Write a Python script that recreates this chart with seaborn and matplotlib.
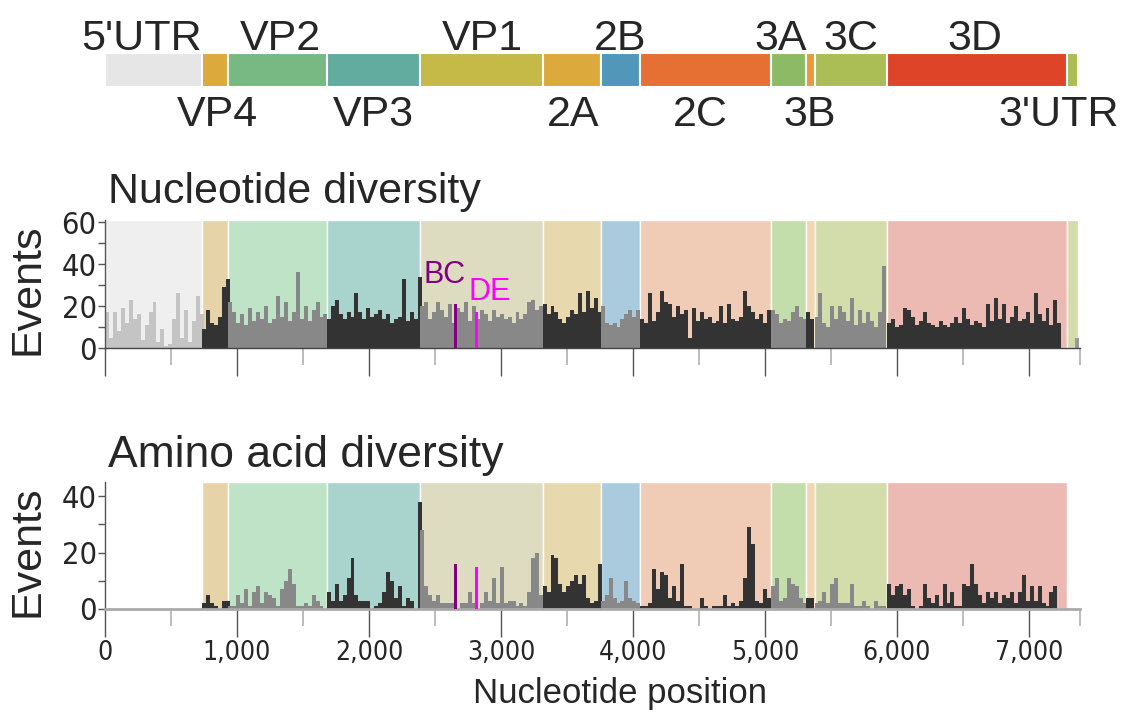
import numpy as np
import pandas as pd
import matplotlib.pyplot as plt
import seaborn as sns

# genome map
genes = ["5'UTR", 'VP4', 'VP2', 'VP3', 'VP1', '2A', '2B', '2C', '3A', '3B', '3C', '3D', "3'UTR"]
gene_start = [0, 735, 935, 1680, 2390, 3315, 3755, 4055, 5045, 5310, 5375, 5925, 7290]
gene_end = [735, 935, 1680, 2390, 3315, 3755, 4055, 5045, 5310, 5375, 5925, 7290, 7370]
genome_colors = ['#e6e6e6', '#dcaa3c', '#78b882', '#62ab9f', '#c5b948', '#dcaa3c', '#5097b9',
                 '#e66f33', '#8dba65', '#e89a3a', '#abbd55', '#dd4428', '#abbd55']
shade_colors = ['#efefef', '#e6d3a8', '#bfe3c7', '#a9d3cd', '#dddcc0', '#e8d8ae', '#a9cbdd',
                '#f0cbb6', '#c3deab', '#f3d6b3', '#d3dcab', '#ecb9b3', '#d3dcab']
bar_tone = ['#c4c4c4', '#333333', '#888888', '#333333', '#888888', '#333333', '#888888',
            '#333333', '#888888', '#333333', '#888888', '#333333', '#999999']

# nucleotide diversity, 30 nt windows from each gene start
nt_5utr = [17, 5, 17, 8, 19, 12, 23, 14, 16, 4, 11, 17, 22, 3, 9, 1, 2, 14, 26, 5, 18, 3, 13, 25, 16]
nt_vp4 = [9, 18, 12, 11, 15, 29, 33]
nt_vp2 = [22, 17, 12, 16, 11, 19, 13, 17, 14, 20, 12, 14, 25, 15, 22, 13, 17, 36, 14, 20, 13, 18, 22, 15, 16]
nt_vp3 = [14, 20, 23, 16, 14, 17, 15, 26, 17, 14, 19, 15, 16, 18, 14, 16, 12, 14, 15, 33, 13, 17, 14, 34]
nt_vp1 = [20, 22, 14, 17, 22, 18, 15, 21, 12, 19, 17, 22, 13, 20, 14, 18, 16, 13, 18, 15, 16, 14, 15, 12,
          17, 14, 16, 22, 23, 18, 20]
nt_2a = [21, 16, 20, 17, 14, 12, 15, 18, 16, 26, 17, 27, 19, 24, 17]
nt_2b = [20, 12, 11, 12, 10, 14, 16, 18, 15, 18]
nt_2c = [14, 12, 26, 13, 17, 27, 22, 21, 15, 20, 16, 18, 5, 19, 13, 17, 14, 15, 12, 13, 20, 12, 21, 14,
         13, 15, 27, 20, 17, 14, 16, 12, 18]
nt_3a = [18, 16, 12, 14, 13, 17, 20, 15, 14]
nt_3b = [17, 14]
nt_3c = [15, 26, 12, 10, 20, 14, 20, 17, 13, 24, 11, 18, 12, 17, 13, 10, 17, 39]
nt_3d = [12, 14, 10, 11, 19, 18, 15, 11, 13, 17, 12, 11, 10, 13, 11, 10, 12, 15, 12, 19, 14, 11, 13, 12,
         10, 21, 13, 24, 14, 21, 12, 15, 20, 13, 14, 17, 12, 26, 16, 13, 19, 11, 23, 12]
nt_3utr = [0, 0, 5]

# amino acid diversity
aa_vp4 = [2, 5, 2, 1, 0, 3, 3]
aa_vp2 = [1, 1, 5, 2, 7, 1, 6, 8, 2, 6, 5, 4, 1, 7, 10, 14, 9, 1, 1, 2, 1, 5, 3, 1, 0]
aa_vp3 = [6, 3, 9, 3, 5, 11, 18, 5, 3, 3, 3, 0, 1, 2, 6, 13, 10, 4, 8, 1, 4, 3, 0, 38]
aa_vp1 = [28, 8, 5, 3, 5, 2, 2, 2, 2, 0, 2, 2, 6, 2, 0, 2, 6, 3, 11, 2, 15, 2, 3, 3, 1, 2, 1, 6, 18, 20, 5]
aa_2a = [8, 6, 19, 18, 9, 6, 8, 10, 12, 9, 12, 4, 2, 3, 16]
aa_2b = [3, 5, 11, 4, 2, 3, 10, 4, 3, 2]
aa_2c = [1, 1, 2, 14, 7, 13, 12, 4, 8, 3, 16, 1, 1, 0, 0, 4, 1, 0, 1, 1, 1, 5, 1, 2, 1, 3, 11, 29, 23,
         3, 2, 7, 4]
aa_3a = [8, 11, 3, 4, 11, 9, 8, 4, 2]
aa_3b = [4, 4]
aa_3c = [2, 3, 6, 2, 9, 11, 2, 2, 2, 9, 1, 1, 3, 1, 0, 3, 1, 1]
aa_3d = [9, 5, 8, 9, 5, 7, 1, 0, 1, 9, 4, 2, 5, 1, 9, 2, 6, 1, 1, 9, 8, 16, 9, 5, 2, 6, 4, 6, 2, 5, 4, 6,
         2, 6, 12, 3, 8, 3, 8, 2, 1, 6, 8, 0]

# highlighted sites
bc_pos, bc_nt, bc_aa = [2657], [21], [16]
de_pos, de_nt, de_aa = [2812], [17], [15]

nt_sets = [nt_5utr, nt_vp4, nt_vp2, nt_vp3, nt_vp1, nt_2a, nt_2b, nt_2c, nt_3a, nt_3b, nt_3c, nt_3d, nt_3utr]
aa_sets = [None, aa_vp4, aa_vp2, aa_vp3, aa_vp1, aa_2a, aa_2b, aa_2c, aa_3a, aa_3b, aa_3c, aa_3d, None]
x_ticks = [0, 1000, 2000, 3000, 4000, 5000, 6000, 7000]
x_tick_labels = ['0', '1,000', '2,000', '3,000', '4,000', '5,000', '6,000', '7,000']
step = 30
XMAX = 7390

sns.set_style('ticks')
plt.rcParams['font.family'] = ['Liberation Sans', 'DejaVu Sans']
narrow = ['DejaVu Sans']

W, H = 1132, 713
fig = plt.figure(figsize=(W / 100, H / 100), dpi=100)


def box(l, t, r, b):
    return [l / W, 1 - b / H, (r - l) / W, (b - t) / H]


def ftext(x, y, s, **kw):
    fig.text(x / W, 1 - y / H, s, **kw)


x_right = 105 + XMAX * 0.132

# top genome bar
ax0 = fig.add_axes(box(105, 53, x_right, 87))
ax0.barh(0, np.array(gene_end) - np.array(gene_start), left=gene_start, height=1,
         color=genome_colors, edgecolor='white', linewidth=1.5)
ax0.set_xlim(0, XMAX)
ax0.set_ylim(-0.5, 0.5)
ax0.axis('off')

top_labels = [("5'UTR", 142), ('VP2', 280), ('VP1', 482), ('2B', 620), ('3A', 781), ('3C', 851), ('3D', 975)]
bot_labels = [('VP4', 217), ('VP3', 373), ('2A', 573), ('2C', 700), ('3B', 810), ("3'UTR", 1059)]
for s, x in top_labels:
    ftext(x, 50, s, ha='center', va='baseline', fontsize=31)
for s, x in bot_labels:
    ftext(x, 126, s, ha='center', va='baseline', fontsize=31)


def bars(ax, pos, vals, edges, color, z):
    df = pd.DataFrame({'pos': pos, 'val': vals})
    sns.histplot(data=df, x='pos', weights='val', bins=list(edges), color=color, alpha=1,
                 linewidth=0, ax=ax, zorder=z)


def draw_panel(ax, sets, ymax, bc_y, de_y):
    for i, g in enumerate(genes):
        if sets[i] is None:
            continue
        ax.axvspan(gene_start[i], gene_end[i], color=shade_colors[i], ec='white', lw=1, zorder=0)
    for i, g in enumerate(genes):
        vals = sets[i]
        if vals is None:
            continue
        pos = gene_start[i] + step * np.arange(len(vals))
        edges = np.append(pos, pos[-1] + step)
        bars(ax, pos, vals, edges, bar_tone[i], 2)
    for p, v, c in [(bc_pos, bc_y, '#800080'), (de_pos, de_y, '#ff00ff')]:
        bars(ax, p, v, [p[0] - 10, p[0] + 12], c, 3)
    ax.set_xlim(0, XMAX)
    ax.set_ylim(0, ymax)
    ax.set_xlabel('')
    ax.set_ylabel('')
    ax.set_xticks(x_ticks)
    ax.set_xticks([500, 1500, 2500, 3500, 4500, 5500, 6500, XMAX], minor=True)
    ax.tick_params(axis='x', which='major', length=20, width=1, color='#555555')
    ax.tick_params(axis='x', which='minor', length=12, width=1.2, color='#b0b0b0')
    ax.tick_params(axis='y', which='both', length=5, width=1, color='#555555', pad=1)
    sns.despine(ax=ax)
    ax.spines['left'].set_color('#555555')
    ax.spines['left'].set_linewidth(1)


ax1 = fig.add_axes(box(105, 220, x_right, 348))
draw_panel(ax1, nt_sets, 61, bc_nt, de_nt)
ax1.set_yticks([0, 20, 40, 60])
ax1.set_yticks([10, 30, 50], minor=True)
ax1.tick_params(labelbottom=False)
ax1.spines['bottom'].set_color('#444444')
ax1.spines['bottom'].set_linewidth(1)

ax2 = fig.add_axes(box(105, 482, x_right, 609))
draw_panel(ax2, aa_sets, 45, bc_aa, de_aa)
ax2.set_yticks([0, 20, 40])
ax2.set_yticks([10, 30], minor=True)
ax2.set_xticklabels(x_tick_labels, family=narrow, fontstretch='condensed', fontsize=19)
ax2.tick_params(axis='x', which='major', pad=2)
ax2.spines['bottom'].set_color('#aaaaaa')
ax2.spines['bottom'].set_linewidth(2)
for ax in (ax1, ax2):
    for lab in ax.get_yticklabels():
        lab.set_family(narrow)
        lab.set_fontstretch('condensed')
        lab.set_fontsize(22)

# titles and labels
ftext(108, 203, 'Nucleotide diversity', ha='left', va='baseline', fontsize=31)
ftext(108, 467, 'Amino acid diversity', ha='left', va='baseline', fontsize=32)
ftext(28, 289, 'Events', rotation=90, ha='center', va='center', fontsize=31)
ftext(28, 551, 'Events', rotation=90, ha='center', va='center', fontsize=31)
ftext(620, 703, 'Nucleotide position', ha='center', va='baseline', fontsize=25)
ftext(445, 283, 'BC', ha='center', va='baseline', fontsize=22, color='#800080')
ftext(490, 300, 'DE', ha='center', va='baseline', fontsize=22, color='#ff00ff')

fig.savefig('out.png', dpi=100)
